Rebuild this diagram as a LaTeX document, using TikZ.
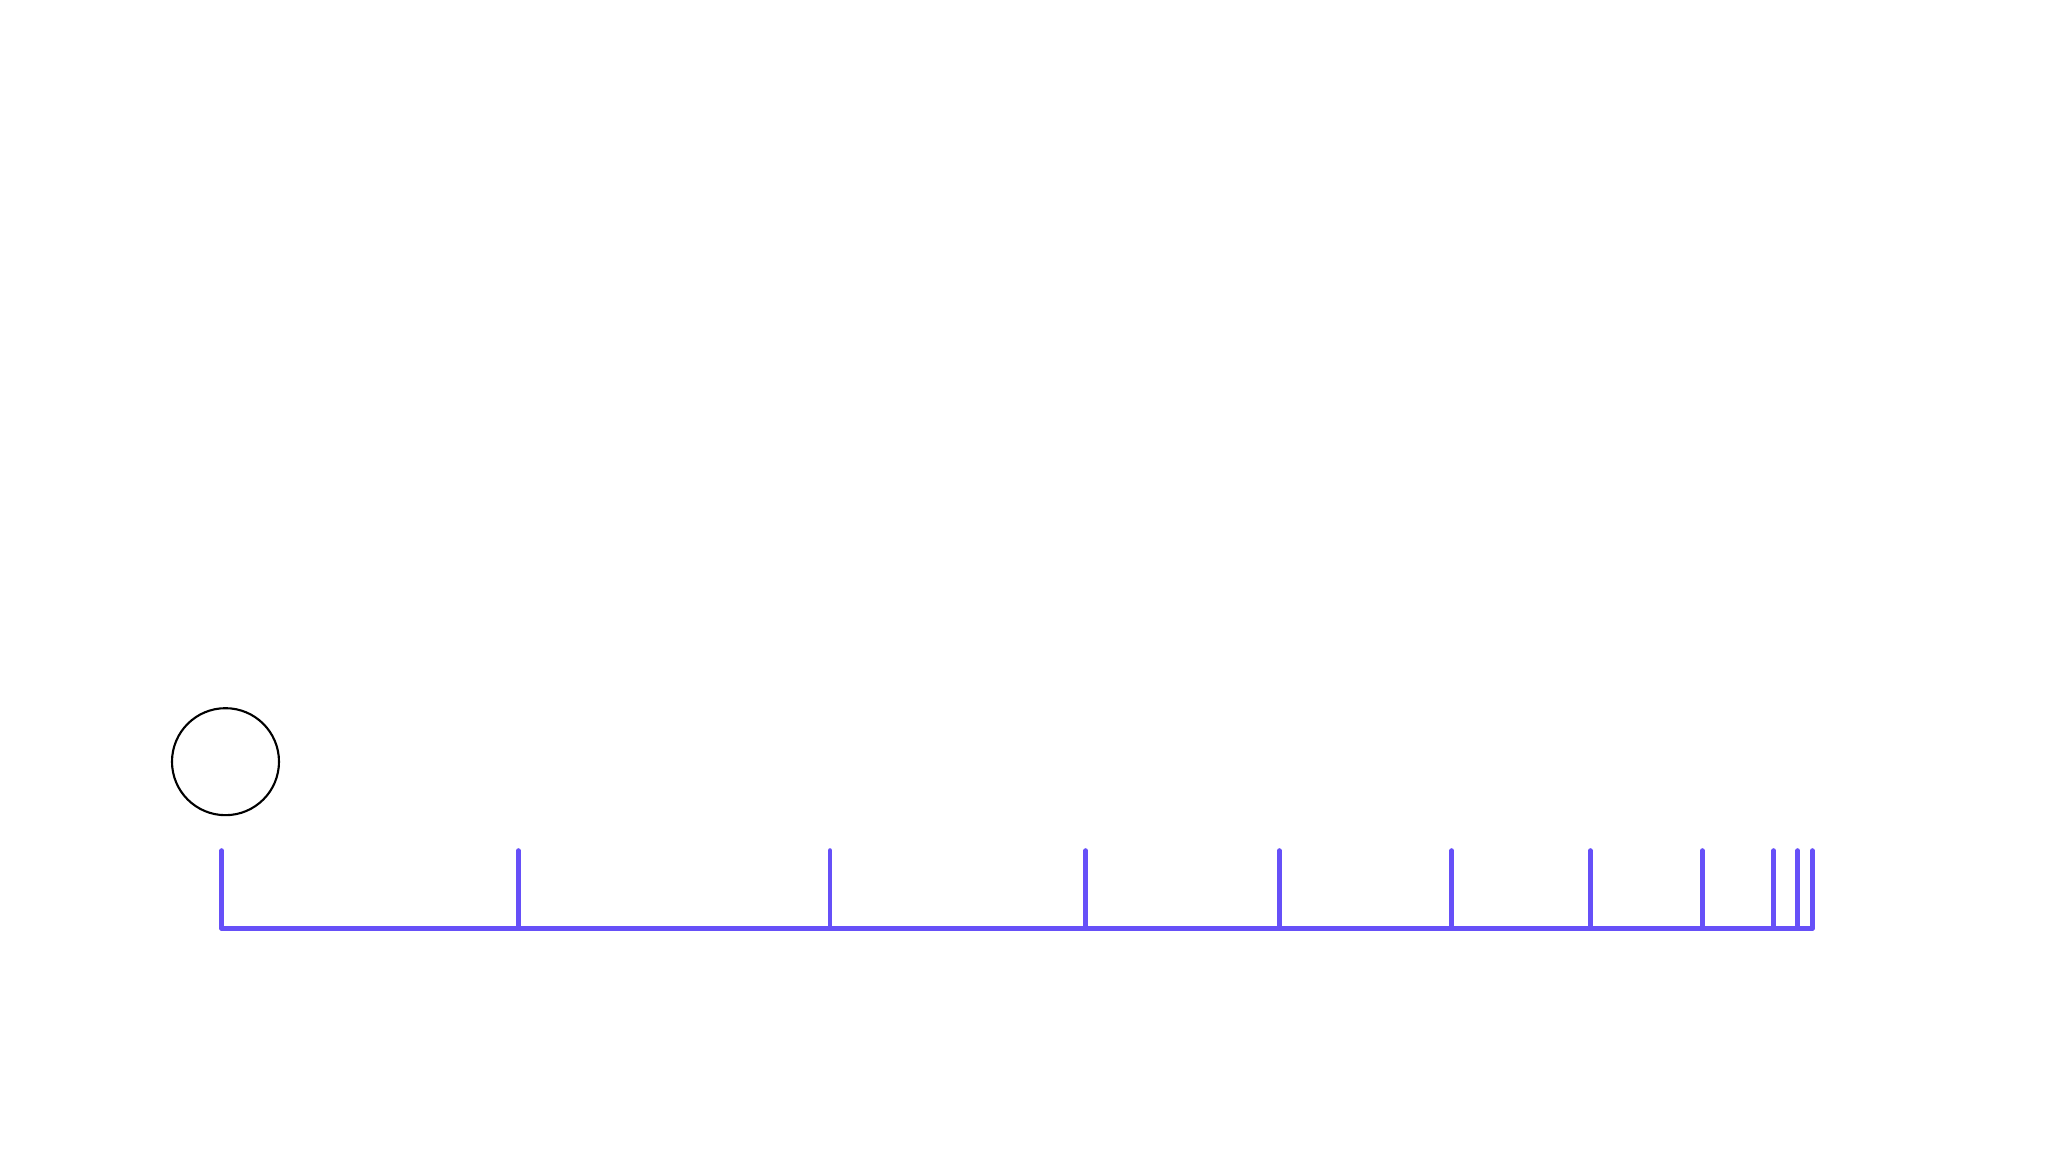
\documentclass[tikz,border=0pt]{standalone}
\usepackage{tikz}
\usetikzlibrary{shapes}
\definecolor{rulerblue}{HTML}{6650F8}
\tikzstyle{ball}=[circle, draw, inner sep=0pt, minimum size=1.07cm, line width=0.6pt, color=black]
\tikzstyle{ruler}=[line width=1.4pt, color=rulerblue, line cap=round]

\begin{document}
\begin{tikzpicture}

    % fix the page to the reference size
    \useasboundingbox (0,0) rectangle (20.48,11.52);

    % the ball above the start of the ruler
    \node[ball] (ball) at (2.255,3.903) {};

    % draw the ticks, using a loop
    \foreach \x/\name in {2.217/t0, 5.183/t1, 8.30/t2, 10.857/t3, 12.793/t4,
        14.518/t5, 15.904/t6, 17.023/t7, 17.737/t8, 17.977/t9, 18.123/t10}
    {
    \coordinate (\name-b) at (\x, 2.237);
    \coordinate (\name-a) at (\x, 3.013);
    \draw[ruler] (\name-b) -- (\name-a);
    }
    % the base line
    \draw[ruler] (t0-b) -- (t10-b);
  \end{tikzpicture}
\end{document}
